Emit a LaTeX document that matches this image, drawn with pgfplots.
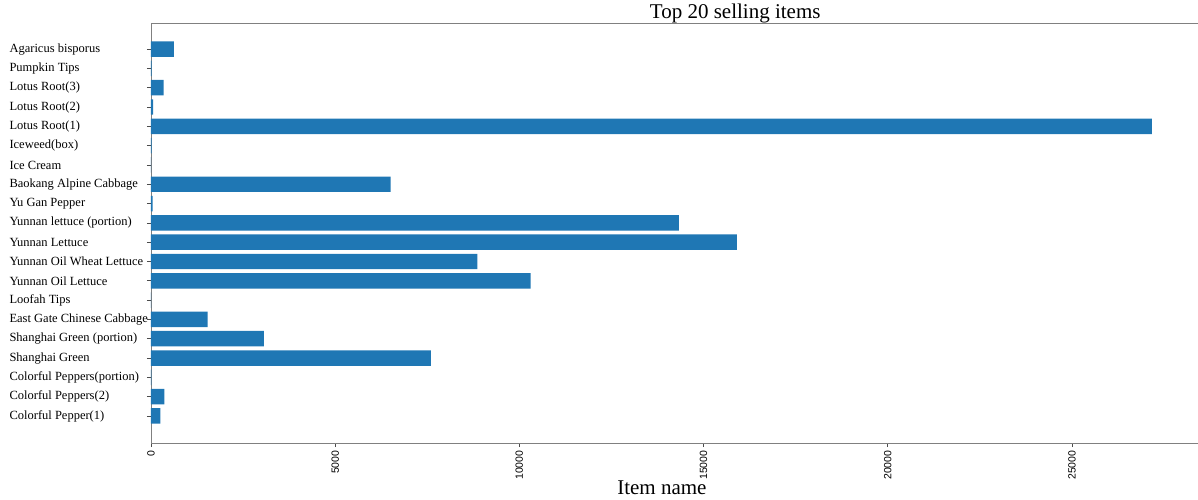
\documentclass[border=0pt]{standalone}
\usepackage{fontspec}
\setmainfont{Liberation Serif}
\newfontfamily\ticksans{Liberation Sans}
\usepackage{pgfplots}
\pgfplotsset{compat=1.18}
\definecolor{barblue}{HTML}{1F77B4}
\begin{document}
\begin{tikzpicture}
\useasboundingbox (-151pt,-57pt) rectangle (1047pt,443pt);
\begin{axis}[
  at={(0,0)}, anchor=south west,
  scale only axis, width=1048pt, height=420pt,
  xbar, bar width=0.8,
  xmin=0, xmax=28450, ymin=-1.4, ymax=20.35,
  ytick={0,...,19},
  yticklabels={Colorful Pepper(1), Colorful Peppers(2), Colorful Peppers(portion), Shanghai Green, Shanghai Green (portion), East Gate Chinese Cabbage, Loofah Tips, Yunnan Oil Lettuce, Yunnan Oil Wheat Lettuce, Yunnan Lettuce, Yunnan lettuce (portion), Yu Gan Pepper, Baokang Alpine Cabbage, Ice Cream, Iceweed(box), Lotus Root(1), Lotus Root(2), Lotus Root(3), Pumpkin Tips, Agaricus bisporus},
  xtick={0,5000,10000,15000,20000,25000},
  scaled ticks=false,
  /pgf/number format/1000 sep={},
  /pgf/number format/assume math mode=true,
  tick align=outside, xtick pos=bottom, ytick pos=left,
  major tick length=4pt,
  tick style={black!70, line width=0.6pt},
  axis line style={black!50, line width=0.8pt},
  yticklabel style={anchor=west, xshift=-141pt, font=\fontsize{12.5}{14}\selectfont},
  xticklabel style={rotate=90, anchor=east, font=\ticksans\fontsize{10.5}{12}\selectfont},
  title={Top 20 selling items},
  title style={at={(axis description cs:0.5575,1)}, anchor=south, inner sep=1pt, yshift=-7pt, font=\fontsize{21}{23}\selectfont},
  xlabel={Item name},
  xlabel style={at={(axis description cs:0.4875,0)}, anchor=north, inner sep=0pt, yshift=-38pt, font=\fontsize{21}{23}\selectfont},
]
\addplot[fill=barblue, draw=none] coordinates {
  (253,0) (361,1) (10,2) (7600,3) (3067,4) (1538,5) (3,6)
  (10306,7) (8858,8) (15907,9) (14332,10) (45,11) (6505,12)
  (5,13) (15,14) (27170,15) (55,16) (345,17) (20,18) (624,19)
};
\end{axis}
\end{tikzpicture}
\end{document}
